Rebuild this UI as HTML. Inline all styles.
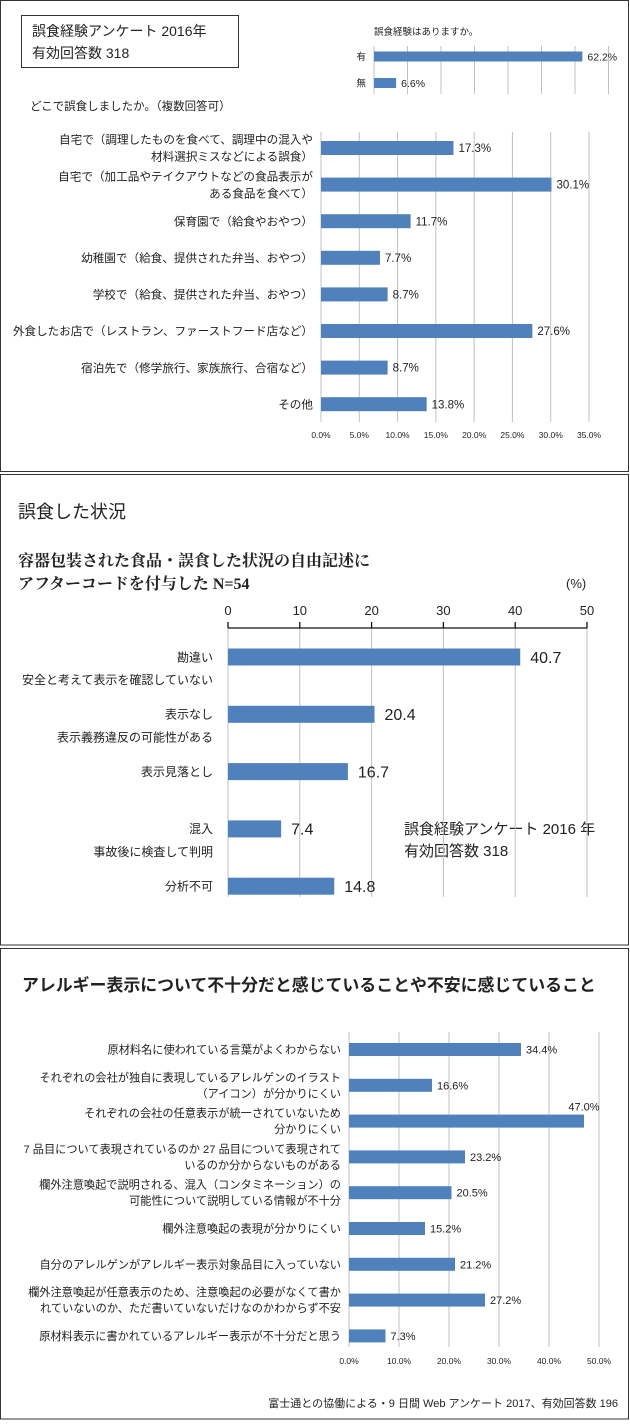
<!DOCTYPE html>
<html><head><meta charset="utf-8">
<style>
html,body{margin:0;padding:0;background:#fff;}
body{width:630px;height:1420px;overflow:hidden;font-family:"Liberation Sans","Noto Sans CJK JP",sans-serif;}
svg text{font-family:"Liberation Sans","Noto Sans CJK JP",sans-serif;fill:#222;}
</style></head><body>
<svg id="s" width="630" height="1420" xmlns="http://www.w3.org/2000/svg">
<rect x="0.5" y="0.5" width="628" height="471" fill="none" stroke="#333"/>
<rect x="0.5" y="474.5" width="628" height="470.5" fill="none" stroke="#333"/>
<rect x="0.5" y="948.5" width="628" height="470.5" fill="none" stroke="#333"/>
<rect x="21.5" y="15.5" width="217" height="52" fill="none" stroke="#333"/>
<text x="32" y="36" font-size="14">誤食経験アンケート 2016年</text>
<text x="32" y="58" font-size="14">有効回答数 318</text>
<text x="374" y="35" font-size="9.5">誤食経験はありますか。</text>
<text x="30" y="110" font-size="11.5">どこで誤食しましたか。（複数回答可）</text>
<text x="18" y="518" font-size="18">誤食した状況</text>
<text x="18" y="566" font-size="16" font-weight="bold" style="font-family:'Liberation Serif','Noto Serif CJK SC',serif">容器包装された食品・誤食した状況の自由記述に</text>
<text x="18" y="589" font-size="16" font-weight="bold" style="font-family:'Liberation Serif','Noto Serif CJK SC',serif">アフターコードを付与した N=54</text>
<text x="566" y="588" font-size="13">(%)</text>
<text x="404" y="834" font-size="15">誤食経験アンケート 2016 年</text>
<text x="404" y="856" font-size="15">有効回答数 318</text>
<text x="22" y="991" font-size="16.9" font-weight="bold">アレルギー表示について不十分だと感じていることや不安に感じていること</text>
<text x="618" y="1407" font-size="11" text-anchor="end">富士通との協働による・9 日間 Web アンケート 2017、有効回答数 196</text>
</svg>
<script>
const c1Cats=["有","無"];
const c1Vals=[62.2,6.6];
const c2Cats=[["自宅で（調理したものを食べて、調理中の混入や","材料選択ミスなどによる誤食）"],["自宅で（加工品やテイクアウトなどの食品表示が","ある食品を食べて）"],["保育園で（給食やおやつ）"],["幼稚園で（給食、提供された弁当、おやつ）"],["学校で（給食、提供された弁当、おやつ）"],["外食したお店で（レストラン、ファーストフード店など）"],["宿泊先で（修学旅行、家族旅行、合宿など）"],["その他"]];
const c2Vals=[17.3,30.1,11.7,7.7,8.7,27.6,8.7,13.8];
const c2Ticks=["0.0%","5.0%","10.0%","15.0%","20.0%","25.0%","30.0%","35.0%"];
const c3Cats=["勘違い","表示なし","表示見落とし","混入","分析不可"];
const c3Subs=["安全と考えて表示を確認していない","表示義務違反の可能性がある","","事故後に検査して判明",""];
const c3Vals=[40.7,20.4,16.7,7.4,14.8];
const c3Ticks=["0","10","20","30","40","50"];
const c4Cats=[["原材料名に使われている言葉がよくわからない"],["それぞれの会社が独自に表現しているアレルゲンのイラスト","（アイコン）が分かりにくい"],["それぞれの会社の任意表示が統一されていないため","分かりにくい"],["7 品目について表現されているのか 27 品目について表現されて","いるのか分からないものがある"],["欄外注意喚起で説明される、混入（コンタミネーション）の","可能性について説明している情報が不十分"],["欄外注意喚起の表現が分かりにくい"],["自分のアレルゲンがアレルギー表示対象品目に入っていない"],["欄外注意喚起が任意表示のため、注意喚起の必要がなくて書か","れていないのか、ただ書いていないだけなのかわからず不安"],["原材料表示に書かれているアレルギー表示が不十分だと思う"]];
const c4Vals=[34.4,16.6,47.0,23.2,20.5,15.2,21.2,27.2,7.3];
const c4Ticks=["0.0%","10.0%","20.0%","30.0%","40.0%","50.0%"];

const S=document.getElementById('s');const NS="http://www.w3.org/2000/svg";
function el(t,a,txt){const e=document.createElementNS(NS,t);for(const k in a)e.setAttribute(k,a[k]);if(txt!==undefined)e.textContent=txt;S.appendChild(e);return e;}
const BLUE="#4f81bd",GRID="#c0c0c0";
function hbar(o){
  const sx=v=>o.x0+(v-o.min)/(o.max-o.min)*o.w;
  for(let g=0;g<=o.ngrid;g++){const v=o.min+g*(o.max-o.min)/o.ngrid;
    const l=el('line',{x1:sx(v),x2:sx(v),y1:o.gy0,y2:o.gy1,stroke:GRID,'stroke-width':1});
    }
  o.vals.forEach((v,i)=>{const cy=o.cy0+i*o.step;
    const r=el('rect',{x:o.x0,y:cy-o.bh/2,width:sx(v)-o.x0,height:o.bh,fill:BLUE});
    
    const lt=(o.valFmt?o.valFmt(v):v.toFixed(1)+'%');
    let tx=sx(v)+o.vgap,ty=cy+o.vfs*0.36,anc='start';
    if(o.above&&o.above(v)){tx=sx(v);ty=cy-o.bh/2-4;anc='middle';}
    const t=el('text',{x:tx,y:ty,'font-size':o.vfs,'text-anchor':anc},lt);
    
    const lines=o.cats[i];const n=lines.length;
    lines.forEach((ln,j)=>{const yy=cy+o.lfs*0.36+(j-(n-1)/2)*o.lh;
      const lb=el('text',{x:o.lx,y:yy,'font-size':o.lfs,'text-anchor':'end'},ln);
      });
  });
  return sx;
}
hbar({id:'experience',x0:374,w:234.5,min:0,max:70,ngrid:7,gy0:46,gy1:94,vals:c1Vals,cats:c1Cats.map(c=>[c]),cy0:56.5,step:26.5,bh:10,vfs:10.5,vgap:5,lx:366,lfs:9.5,lh:12});
const sx2=hbar({id:'location',x0:321,w:268,min:0,max:35,ngrid:7,gy0:132,gy1:422,vals:c2Vals,cats:c2Cats,cy0:148,step:36.6,bh:14,vfs:11.5,vgap:5,lx:313,lfs:11.6,lh:17});
c2Ticks.forEach((t,i)=>{const e=el('text',{x:sx2(i*5),y:438,'font-size':8.5,'text-anchor':'middle'},t);
  });
const sx3=hbar({id:'situation',x0:228,w:359,min:0,max:50,ngrid:5,gy0:628,gy1:897,vals:c3Vals,cats:c3Cats.map(c=>[c]),cy0:657,step:57.3,bh:17,vfs:16,vgap:10,lx:213,lfs:12,lh:14,valFmt:v=>v.toFixed(1)});
const ax=el('line',{x1:228,x2:587,y1:628,y2:628,stroke:'#111','stroke-width':1.3});

c3Ticks.forEach((t,i)=>{const x=sx3(i*10);
  const tk=el('line',{x1:x,x2:x,y1:622,y2:628,stroke:'#111','stroke-width':1.3});
  
  const e=el('text',{x:x,y:615,'font-size':13,'text-anchor':'middle'},t);
  });
c3Subs.forEach((t,i)=>{if(!t)return;const e=el('text',{x:213,y:657+i*57.3+27,'font-size':12,'text-anchor':'end'},t);
  });
const sx4=hbar({id:'concern',x0:349,w:250,min:0,max:50,ngrid:5,gy0:1032,gy1:1347,vals:c4Vals,cats:c4Cats,cy0:1049.5,step:35.8,bh:13,vfs:11,vgap:5,lx:341,lfs:11.2,lh:16,above:v=>v>45});
c4Ticks.forEach((t,i)=>{const e=el('text',{x:sx4(i*10),y:1364,'font-size':8.5,'text-anchor':'middle'},t);
  });
</script>
</body></html>
